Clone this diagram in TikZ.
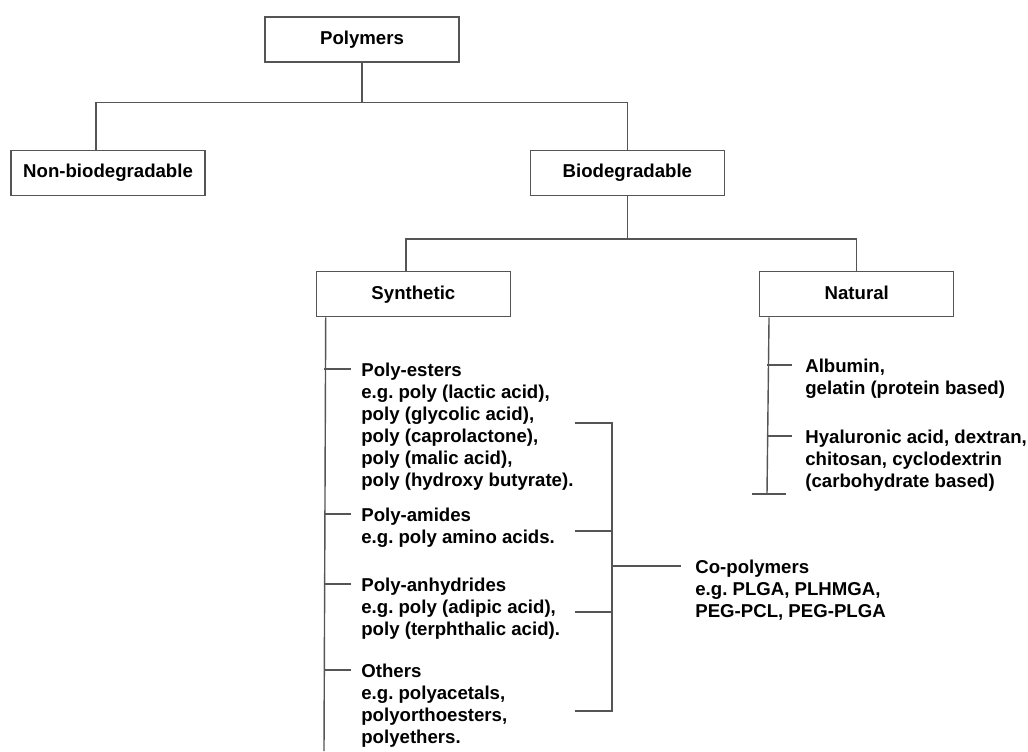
\documentclass[tikz,border=0pt]{standalone}
\usepackage{fontspec}
\setmainfont{Liberation Sans}
\usepackage{tikz}
\usetikzlibrary{positioning}
\frenchspacing
\definecolor{linegray}{RGB}{85,85,85}
\tikzstyle{block} = [rectangle, draw=linegray, line width=0.8pt,
    minimum width=3.88cm, minimum height=0.9cm, inner sep=0pt,
    text height=0.75em, text depth=0.2em,
    font=\fontsize{10.6}{12.5}\selectfont\bfseries]
\tikzstyle{leaf} = [anchor=north west, align=left, inner sep=0pt,
    font=\fontsize{10.6}{12.5}\selectfont\bfseries]
\tikzstyle{line} = [draw=linegray, line width=0.8pt]

\begin{document}
\begin{tikzpicture}[x=0.02cm, y=-0.02cm]
        \useasboundingbox (0,0) rectangle (1028,751);
        % Place nodes
        \node [block] (polymers) at (362,39.5) {Polymers};
        \node [block, below=1.74cm of polymers, xshift=-5.08cm] (nonbio) {Non-biodegradable};
        \node [block, right=6.48cm of nonbio] (biodeg) {Biodegradable};
        \node [block, below=1.5cm of biodeg, xshift=-4.28cm] (synth) {Synthetic};
        \node [block, right=4.96cm of synth] (natural) {Natural};
        \node [leaf] (esters) at (361,363) {Poly-esters\\e.g. poly (lactic acid),\\poly (glycolic acid),\\poly (caprolactone),\\poly (malic acid),\\poly (hydroxy butyrate).};
        \node [leaf] (amides) at (361,508) {Poly-amides\\e.g. poly amino acids.};
        \node [leaf] (anhydrides) at (361,578) {Poly-anhydrides\\e.g. poly (adipic acid),\\poly (terphthalic acid).};
        \node [leaf] (others) at (361,664) {Others\\e.g. polyacetals,\\polyorthoesters,\\polyethers.};
        \node [leaf] (albumin) at (805,359) {Albumin,\\gelatin (protein based)};
        \node [leaf] (hyaluronic) at (805,430) {Hyaluronic acid, dextran,\\chitosan, cyclodextrin\\(carbohydrate based)};
        \node [leaf] (copolymers) at (695,560) {Co-polymers\\e.g. PLGA, PLHMGA,\\PEG-PCL, PEG-PLGA};
        \coordinate (synend) at (324,751);
        \coordinate (natend) at (767,494);
        \coordinate (br1) at (612,423);
        \coordinate (br2) at (612,531);
        \coordinate (br3) at (612,612);
        \coordinate (br4) at (612,711);
        % Draw edges
        \path [line] (polymers.south) -- ++(0,-0.8cm);
        \path [line] ([xshift=-0.24cm]nonbio.north) -- ++(0,0.94cm) -| (biodeg.north);
        \path [line] (biodeg.south) -- ++(0,-0.86cm);
        \path [line] ([xshift=-0.15cm]synth.north) -- ++(0,0.64cm) -| (natural.north);
        \path [line] ([xshift=0.2cm]synth.south west) -- (synend);
        \path [line] ([xshift=-0.2cm,yshift=-0.12cm]esters.north west) -- ++(-0.54cm,0);
        \path [line] ([xshift=-0.2cm,yshift=-0.12cm]amides.north west) -- ++(-0.54cm,0);
        \path [line] ([xshift=-0.2cm,yshift=-0.12cm]anhydrides.north west) -- ++(-0.54cm,0);
        \path [line] ([xshift=-0.2cm,yshift=-0.12cm]others.north west) -- ++(-0.54cm,0);
        \path [line] ([xshift=0.2cm]natural.south west) -- (natend);
        \path [line] ([xshift=-0.3cm]natend) -- ([xshift=0.38cm]natend);
        \path [line] ([xshift=-0.26cm,yshift=-0.12cm]albumin.north west) -- ++(-0.5cm,0);
        \path [line] ([xshift=-0.26cm,yshift=-0.12cm]hyaluronic.north west) -- ++(-0.5cm,0);
        \path [line] ([xshift=-0.74cm]br1) -- (br1) -- (br4) -- ([xshift=-0.74cm]br4);
        \path [line] ([xshift=-0.74cm]br2) -- (br2);
        \path [line] ([xshift=-0.74cm]br3) -- (br3);
        \path [line] ([xshift=-0.28cm,yshift=-0.12cm]copolymers.north west) -- ++(-1.38cm,0);
\end{tikzpicture}
\end{document}
